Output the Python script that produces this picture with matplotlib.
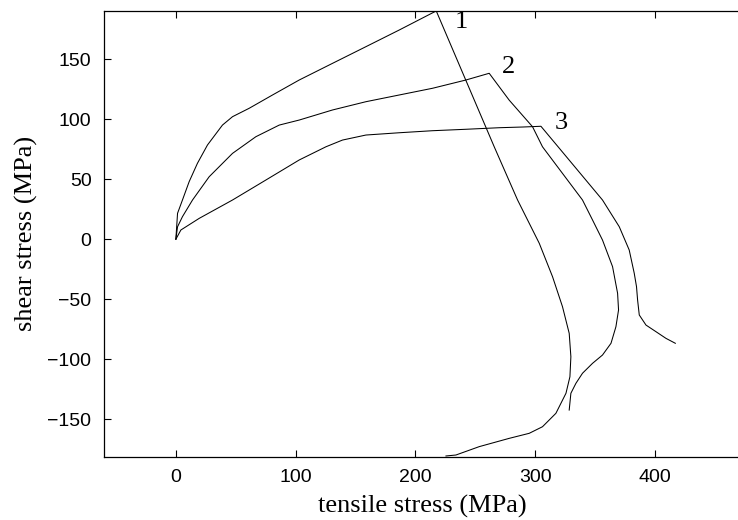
import matplotlib
matplotlib.use('Agg')
import matplotlib.pyplot as plt

# curve 1 (steepest loading path)
x1 = [0, 1.4, 5.5, 11.1, 18.0, 26.4, 38.9, 47.3, 61.2, 80.7, 103.0, 130.8, 158.7, 186.5, 217.4,
      265.8, 285.3, 303.4, 314.5, 322.8, 328.4, 329.8, 329.0, 325.7, 317.3, 306.1, 295.0, 278.3,
      253.3, 233.8, 225.5]
y1 = [0, 21.6, 32.7, 48.0, 63.3, 78.6, 95.2, 102.2, 109.2, 120.3, 132.8, 146.7, 160.6, 174.5, 190.4,
      77.1, 32.7, -3.4, -31.3, -56.3, -78.5, -98.0, -114.7, -128.5, -145.2, -156.4, -161.9, -166.1,
      -173.0, -180.0, -180.8]

# curve 2
x2 = [0, 1.4, 5.5, 13.9, 27.8, 47.3, 66.8, 86.3, 103.0, 130.8, 158.7, 186.5, 214.3, 242.2, 261.6,
      278.3, 297.8, 306.1, 339.5, 347.9, 356.2, 364.6, 368.8, 369.6, 367.4, 363.3, 356.2, 347.9,
      339.5, 334.0, 329.8, 328.4]
y2 = [0, 10.4, 18.8, 32.7, 52.1, 71.6, 85.5, 95.2, 99.4, 107.8, 114.7, 120.3, 125.9, 132.8, 138.4,
      116.0, 93.8, 77.1, 32.7, 16.0, -0.7, -22.9, -45.1, -59.0, -73.0, -86.8, -96.6, -103.5,
      -111.8, -120.2, -128.5, -142.5]

# curve 3
x3 = [0, 4.2, 19.5, 47.3, 75.2, 103.0, 125.3, 139.1, 158.7, 186.5, 214.3, 242.2, 270.0, 290.0, 304.8,
      320.2, 356.2, 370.2, 378.5, 382.7, 384.6, 385.5, 386.9, 392.5, 400.8, 409.2, 417.0]
y3 = [0, 7.7, 17.4, 32.7, 49.4, 66.1, 77.1, 82.7, 86.9, 88.8, 90.5, 91.7, 93.0, 93.6, 94.2,
      75.8, 32.7, 10.4, -9.0, -28.4, -39.6, -50.7, -63.2, -71.6, -77.1, -82.7, -86.8]

curve_labels = ['1', '2', '3']
label_x = [238, 277.7, 322]
label_y = [181.4, 143.9, 96.7]

xticks = [0, 100, 200, 300, 400]
yticks = [-150, -100, -50, 0, 50, 100, 150]

fig = plt.figure(figsize=(7.38, 5.2), dpi=100)
ax = fig.add_axes([104/738, 63.3/520, 636/738, 446/520])

for xs, ys in [(x1, y1), (x2, y2), (x3, y3)]:
    ax.plot(xs, ys, color='black', linewidth=0.75)

for lab, lx, ly in zip(curve_labels, label_x, label_y):
    ax.text(lx, ly, lab, fontsize=19, family='Liberation Serif', ha='center', va='center')

ax.set_xlim(-60, 471)
ax.set_ylim(-181.4, 190.6)
ax.set_xticks(xticks)
ax.set_yticks(yticks)
ax.tick_params(direction='in', length=5, width=0.8, top=True, right=False, labelsize=14, pad=9)
for lbl in ax.get_xticklabels() + ax.get_yticklabels():
    lbl.set_family('Liberation Sans')
for sp in ax.spines.values():
    sp.set_linewidth(0.9)
ax.spines['right'].set_visible(False)  # cut off at the image edge

ax.set_xlabel('tensile stress (MPa)', fontsize=19, family='Liberation Serif', labelpad=6)
ax.set_ylabel('shear stress (MPa)', fontsize=19, family='Liberation Serif', labelpad=7)

fig.savefig('out.png', dpi=100)
